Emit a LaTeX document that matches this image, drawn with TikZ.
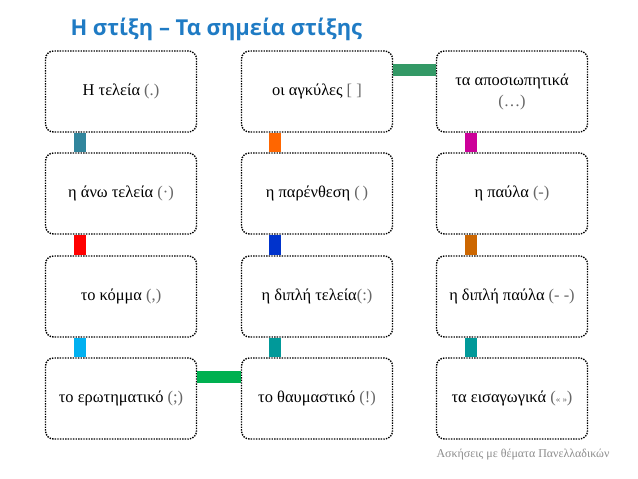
\documentclass[tikz,border=0pt]{standalone}
\usepackage{fontspec}
\setmainfont{Liberation Serif}
\newfontfamily\titlefont{Open Sans}
\definecolor{titleblue}{HTML}{1F7BC4}
\definecolor{cA}{HTML}{31859C}
\definecolor{cB}{HTML}{FF0000}
\definecolor{cC}{HTML}{00B0F0}
\definecolor{cD}{HTML}{FF6600}
\definecolor{cE}{HTML}{0033CC}
\definecolor{cF}{HTML}{009999}
\definecolor{cG}{HTML}{CC0099}
\definecolor{cH}{HTML}{CC6600}
\definecolor{cI}{HTML}{339966}
\definecolor{cJ}{HTML}{00B050}
\definecolor{footgray}{HTML}{8C8C8C}
\newcommand{\pp}[1]{{\color{black!60}(#1)}}
\begin{document}
\begin{tikzpicture}[x=1bp,y=-1bp,
  box/.style={draw=black, line width=1.4bp, dash pattern=on 1.4bp off 1.2bp,
    rounded corners=8bp, minimum width=151bp, minimum height=81bp,
    inner sep=2bp, align=center, font=\fontsize{16.5}{21}\selectfont},
  bar/.style={line width=12bp}]
\useasboundingbox (0,0) rectangle (638,479);
\node[anchor=west, text=titleblue, font=\titlefont\bfseries\fontsize{22}{26}\selectfont] (title) at (67,29) {Η στίξη – Τα σημεία στίξης};
\node[box] (a1) at (121,91.5) {Η τελεία \pp{.}};
\node[box] (a2) at (121,193.5) {η άνω τελεία \pp{·}};
\node[box] (a3) at (121,296.5) {το κόμμα \pp{,}};
\node[box] (a4) at (121,398.5) {το ερωτηματικό \pp{;}};
\node[box] (b1) at (317,91.5) {οι αγκύλες {\color{black!60}[ ]}};
\node[box] (b2) at (317,193.5) {η παρένθεση \pp{\,}};
\node[box] (b3) at (317,296.5) {η διπλή τελεία\pp{:}};
\node[box] (b4) at (317,398.5) {το θαυμαστικό \pp{!}};
\node[box] (c1) at (512,91.5) {τα αποσιωπητικά\\\pp{…}};
\node[box] (c2) at (512,193.5) {η παύλα \pp{-}};
\node[box] (c3) at (512,296.5) {η διπλή παύλα \pp{- -}};
\node[box] (c4) at (512,398.5) {τα εισαγωγικά \pp{{\small« »}}};
\node[anchor=east, text=footgray, font=\fontsize{12}{14}\selectfont] (foot) at (613,455) {Ασκήσεις με θέματα Πανελλαδικών};
\draw[bar, cA] ([xshift=35bp]a1.south west) -- ([xshift=35bp]a2.north west);
\draw[bar, cB] ([xshift=35bp]a2.south west) -- ([xshift=35bp]a3.north west);
\draw[bar, cC] ([xshift=35bp]a3.south west) -- ([xshift=35bp]a4.north west);
\draw[bar, cD] ([xshift=34bp]b1.south west) -- ([xshift=34bp]b2.north west);
\draw[bar, cE] ([xshift=34bp]b2.south west) -- ([xshift=34bp]b3.north west);
\draw[bar, cF] ([xshift=34bp]b3.south west) -- ([xshift=34bp]b4.north west);
\draw[bar, cG] ([xshift=35bp]c1.south west) -- ([xshift=35bp]c2.north west);
\draw[bar, cH] ([xshift=35bp]c2.south west) -- ([xshift=35bp]c3.north west);
\draw[bar, cF] ([xshift=35bp]c3.south west) -- ([xshift=35bp]c4.north west);
\draw[bar, cI] ([yshift=-20bp]b1.north east) -- ([yshift=-20bp]c1.north west);
\draw[bar, cJ] ([yshift=-20bp]a4.north east) -- ([yshift=-20bp]b4.north west);
\end{tikzpicture}
\end{document}
